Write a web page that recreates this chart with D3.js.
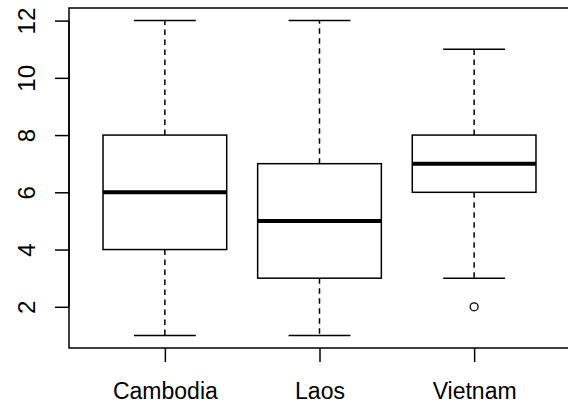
<!DOCTYPE html>
<html>
<head>
<meta charset="utf-8">
<script src="https://cdn.jsdelivr.net/npm/d3@7"></script>
<style>
  body { margin: 0; background: #fff; }
  text { font-family: "Liberation Sans", Arial, sans-serif; fill: #000; }
</style>
</head>
<body>
<div id="chart"></div>
<script>
// five-number summaries
var countries = ["Cambodia", "Laos", "Vietnam"];
var lowWhisker = [1, 1, 3];
var lowerQuartile = [4, 3, 6];
var medians = [6, 5, 7];
var upperQuartile = [8, 7, 8];
var highWhisker = [12, 12, 11];
var outliers = [[], [], [2]];
var yTicks = [2, 4, 6, 8, 10, 12];

var W = 568, H = 406;
var margin = { top: 8, right: -2, bottom: 58, left: 69 };
var width = W - margin.left - margin.right,
    height = H - margin.top - margin.bottom;

var svg = d3.select("#chart")
    .append("svg")
    .attr("width", W)
    .attr("height", H)
    .append("g")
    .attr("transform", "translate(" + margin.left + "," + margin.top + ")");

// R style: domain padded by 4%
var x = d3.scaleLinear()
    .domain([0.38, 3.62])
    .range([0, width]);

var y = d3.scaleLinear()
    .domain([0.56, 12.44])
    .range([height, 0]);

var boxHalf = 0.4, capHalf = 0.2;

var data = countries.map(function (c, i) {
    return {
        name: c, pos: i + 1,
        lo: lowWhisker[i], q1: lowerQuartile[i], med: medians[i],
        q3: upperQuartile[i], hi: highWhisker[i], out: outliers[i]
    };
});

var g = svg.selectAll("g.box")
    .data(data)
    .enter()
    .append("g")
    .attr("class", "box");

// dashed whiskers
g.append("line")
    .attr("x1", function (d) { return x(d.pos) })
    .attr("x2", function (d) { return x(d.pos) })
    .attr("y1", function (d) { return y(d.q3) })
    .attr("y2", function (d) { return y(d.hi) })
    .attr("stroke", "#000").attr("stroke-width", 1.5)
    .attr("stroke-dasharray", "5.5,4.5");
g.append("line")
    .attr("x1", function (d) { return x(d.pos) })
    .attr("x2", function (d) { return x(d.pos) })
    .attr("y1", function (d) { return y(d.q1) })
    .attr("y2", function (d) { return y(d.lo) })
    .attr("stroke", "#000").attr("stroke-width", 1.5)
    .attr("stroke-dasharray", "5.5,4.5");

// staples
["lo", "hi"].forEach(function (k) {
    g.append("line")
        .attr("x1", function (d) { return x(d.pos - capHalf) })
        .attr("x2", function (d) { return x(d.pos + capHalf) })
        .attr("y1", function (d) { return y(d[k]) })
        .attr("y2", function (d) { return y(d[k]) })
        .attr("stroke", "#000").attr("stroke-width", 1.5);
});

// boxes
g.append("rect")
    .attr("x", function (d) { return x(d.pos - boxHalf) })
    .attr("width", function (d) { return x(d.pos + boxHalf) - x(d.pos - boxHalf) })
    .attr("y", function (d) { return y(d.q3) })
    .attr("height", function (d) { return y(d.q1) - y(d.q3) })
    .attr("fill", "#fff")
    .attr("stroke", "#000").attr("stroke-width", 1.5);

// medians
g.append("line")
    .attr("x1", function (d) { return x(d.pos - boxHalf) })
    .attr("x2", function (d) { return x(d.pos + boxHalf) })
    .attr("y1", function (d) { return y(d.med) })
    .attr("y2", function (d) { return y(d.med) })
    .attr("stroke", "#000").attr("stroke-width", 4);

// outliers
g.selectAll("circle")
    .data(function (d) { return d.out.map(function (v) { return { pos: d.pos, v: v } }) })
    .enter()
    .append("circle")
    .attr("cx", function (d) { return x(d.pos) })
    .attr("cy", function (d) { return y(d.v) })
    .attr("r", 4)
    .attr("fill", "none")
    .attr("stroke", "#000").attr("stroke-width", 1.3);

// plot frame
svg.append("rect")
    .attr("x", 0).attr("y", 0)
    .attr("width", width).attr("height", height)
    .attr("fill", "none")
    .attr("stroke", "#000").attr("stroke-width", 1.5);

// y axis
var yAxis = svg.append("g")
    .call(d3.axisLeft(y).tickValues(yTicks).tickSize(14).tickSizeOuter(0));
yAxis.select(".domain")
    .attr("d", "M0," + y(yTicks[0]) + "V" + y(yTicks[yTicks.length - 1]))
    .attr("stroke-width", 1.5);
yAxis.selectAll(".tick line").attr("stroke-width", 1.5);
yAxis.selectAll(".tick text")
    .attr("x", null).attr("dy", null)
    .attr("transform", "translate(-34,0) rotate(-90)")
    .attr("text-anchor", "middle")
    .style("font-size", "24px")
    .style("font-family", "Liberation Sans, Arial, sans-serif");

// x axis
var xAxis = svg.append("g")
    .attr("transform", "translate(0," + height + ")")
    .call(d3.axisBottom(x).tickValues([1, 2, 3])
        .tickFormat(function (d) { return countries[d - 1] })
        .tickSize(14).tickSizeOuter(0));
xAxis.select(".domain").remove();
xAxis.selectAll(".tick line").attr("stroke-width", 1.5);
xAxis.selectAll(".tick text")
    .attr("y", 51).attr("dy", null)
    .style("font-size", "23px")
    .style("font-family", "Liberation Sans, Arial, sans-serif");
</script>
</body>
</html>
